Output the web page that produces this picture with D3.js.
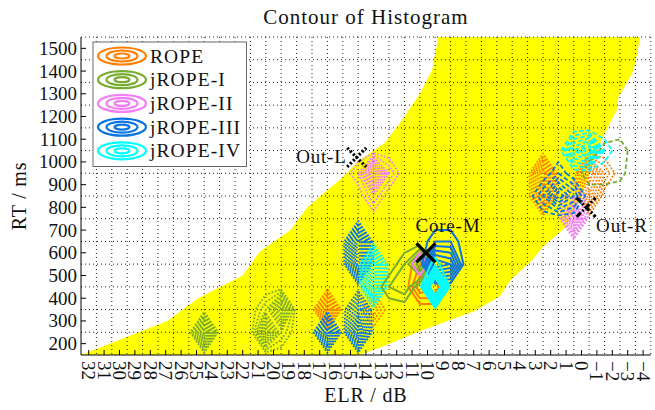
<!DOCTYPE html>
<html>
<head>
<meta charset="utf-8">
<script src="https://cdn.jsdelivr.net/npm/d3@7"></script>
<style>
  body { margin: 0; background: #fff; }
  text { font-family: "Liberation Serif", "Times New Roman", serif; fill: #111; }
</style>
</head>
<body>
<svg id="chart" width="655" height="410"></svg>
<script>
// ---------- data ----------
const elrTicks = [32, 31, 30, 29, 28, 27, 26, 25, 24, 23, 22, 21, 20, 19, 18, 17, 16, 15, 14, 13, 12, 11, 10, 9, 8, 7, 6, 5, 4, 3, 2, 1, 0, -1, -2, -3, -4];
const rtTicks = [200, 300, 400, 500, 600, 700, 800, 900, 1000, 1100, 1200, 1300, 1400, 1500];
// histogram bin centres (grid lines)
const elrBins = [32.5, 31.5, 30.5, 29.5, 28.5, 27.5, 26.5, 25.5, 24.5, 23.5, 22.5, 21.5, 20.5, 19.5, 18.5, 17.5, 16.5, 15.5, 14.5, 13.5, 12.5, 11.5, 10.5, 9.5, 8.5, 7.5, 6.5, 5.5, 4.5, 3.5, 2.5, 1.5, 0.5, -0.5, -1.5, -2.5, -3.5, -4.5];
const rtBins = [150, 250, 350, 450, 550, 650, 750, 850, 950, 1050, 1150, 1250, 1350, 1450, 1550];

const seriesNames = ["ROPE", "jROPE-I", "jROPE-II", "jROPE-III", "jROPE-IV"];

// region reached by all trials together, [ELR, RT]
const coverageElr = [32.5, 26.9, 24.9, 22.0, 20.9, 18.9, 17.8, 16.5, 15.7, 14.4, 12.8, 11.8, 10.5, 9.7, 9.3, -3.8, -3.5, -3.3, -2.4, -2.3, -1.3, 0.1, 1.0, 2.5, 3.2, 4.6, 5.3, 7.0, 10.3, 12.9, 14.4];
const coverageRt  = [150, 300, 400, 500, 605, 700, 800, 875, 920, 1008, 1082, 1170, 1300, 1405, 1550, 1550, 1435, 1390, 1287, 1230, 1096, 832, 715, 627, 568, 480, 407, 341, 260, 187, 150];

// 2-D histogram counts: [ELR bin, RT bin, count]
const ropeLow   = [[16.5, 350, 10], [13.5, 350, 4]];
const ropeCore  = [[10.5, 450, 4], [9.5, 450, 4], [10.5, 550, 2]];
const ropeHigh  = [[2.5, 950, 8], [2.5, 850, 7], [-0.5, 950, 8], [-0.5, 850, 6], [-1.5, 950, 3]];

const jr1Low    = [[24.5, 250, 10], [20.5, 250, 9], [19.5, 350, 9], [20.5, 350, 3], [19.5, 250, 3]];
const jr1Core   = [[10.5, 550, 6], [11.5, 550, 2], [11.5, 450, 3], [12.5, 450, 2]];
const jr1High   = [[-2.5, 1050, 2], [-1.5, 950, 2], [-2.5, 950, 1.5], [-1.5, 1050, 1.5], [-0.5, 950, 2]];

const jr2Low    = [[13.5, 950, 10], [12.5, 950, 3], [14.5, 950, 2], [13.5, 850, 3]];
const jr2Core   = [[10.5, 550, 2]];
const jr2High   = [[0.5, 750, 10], [0.5, 850, 3]];

const jr3Low    = [[16.5, 250, 10], [14.5, 250, 10], [14.5, 350, 6], [14.5, 550, 10], [14.5, 650, 10]];
const jr3Core   = [[9.5, 550, 7], [8.5, 550, 6], [9.5, 650, 2], [8.5, 650, 2]];
const jr3High   = [[1.5, 850, 7], [2.5, 850, 3], [0.5, 850, 4], [1.5, 950, 2]];

const jr4Low    = [[13.5, 450, 10], [13.5, 550, 10]];
const jr4Core   = [[9.5, 450, 14], [9.5, 550, 1.4]];
const jr4High   = [[-0.5, 1050, 9], [0.5, 1050, 6], [-1.5, 1050, 2]];

const contourLevels = [1, 2, 3, 4, 5, 6, 7, 8, 9];

// reference points
const markerNames = ["Out-L", "Core-M", "Out-R"];
const markerElr = [14.6, 10.1, -0.3];
const markerRt = [1020, 600, 800];

// ---------- appearance ----------
const colors = ["#ff8000", "#77ac30", "#f47ef4", "#0a74e0", "#00ffff"];
const groupStyles = {
  low:  { dash: "1.8,1.6", width: 1.8 },
  core: { dash: null, width: 2 },
  high: { dash: "4.5,2.5", width: 1.8 }
};
const groups = [
  { series: 0, style: "low", cells: ropeLow },
  { series: 0, style: "core", cells: ropeCore },
  { series: 0, style: "low", cells: ropeHigh },
  { series: 1, style: "low", cells: jr1Low },
  { series: 1, style: "core", cells: jr1Core },
  { series: 1, style: "high", cells: jr1High },
  { series: 2, style: "low", cells: jr2Low },
  { series: 2, style: "core", cells: jr2Core },
  { series: 2, style: "low", cells: jr2High },
  { series: 3, style: "low", cells: jr3Low },
  { series: 3, style: "core", cells: jr3Core },
  { series: 3, style: "high", cells: jr3High },
  { series: 4, style: "low", cells: jr4Low },
  { series: 4, style: "core", cells: jr4Core },
  { series: 4, style: "high", cells: jr4High }
];

const plot = { left: 81, right: 650.8, top: 37, bottom: 355 };

const x = d3.scaleLinear().domain([elrBins[0], elrBins[elrBins.length - 1]]).range([plot.left, plot.right]);
const y = d3.scaleLinear().domain([rtBins[0], rtBins[rtBins.length - 1]]).range([plot.bottom, plot.top]);

const svg = d3.select("#chart");

// coverage region
const coverage = coverageElr.map((e, i) => [e, coverageRt[i]]);
svg.append("path")
  .attr("d", d3.line().x(d => x(d[0])).y(d => y(d[1]))(coverage) + "Z")
  .attr("fill", "#ffff00")
  .attr("stroke", "none");

// dotted grid on bin centres
const grid = svg.append("g").attr("stroke", "#222").attr("stroke-width", 1).attr("stroke-dasharray", "1,3");
grid.selectAll("line.v").data(elrBins.slice(1)).join("line")
  .attr("x1", d => x(d)).attr("x2", d => x(d))
  .attr("y1", plot.top).attr("y2", plot.bottom);
grid.selectAll("line.h").data(rtBins.slice(1)).join("line")
  .attr("y1", d => y(d)).attr("y2", d => y(d))
  .attr("x1", plot.left).attr("x2", plot.right);

// contours of each histogram
const nx = elrBins.length, ny = rtBins.length;
const contourGen = d3.contours().size([nx, ny]).thresholds(contourLevels);
const elrOf = gx => elrBins[0] - (gx - 0.5);
const rtOf = gy => rtBins[0] + (gy - 0.5) * (rtBins[1] - rtBins[0]);
const proj = d3.geoTransform({
  point(gx, gy) { this.stream.point(x(elrOf(gx)), y(rtOf(gy))); }
});
const pathGen = d3.geoPath(proj);

const contourLayer = svg.append("g").attr("fill", "none");
const order = ["low", "high", "core"];
order.forEach(styleName => {
  groups.filter(g => g.style === styleName).forEach(g => {
    const values = new Array(nx * ny).fill(0);
    g.cells.forEach(([e, r, c]) => {
      const i = elrBins.indexOf(e), j = rtBins.indexOf(r);
      values[j * nx + i] += c;
    });
    const st = groupStyles[g.style];
    contourLayer.append("g")
      .selectAll("path").data(contourGen(values)).join("path")
      .attr("d", pathGen)
      .attr("stroke", colors[g.series])
      .attr("stroke-width", st.width)
      .attr("stroke-dasharray", st.dash)
      .attr("stroke-linejoin", "round");
  });
});

// axes lines
const axes = svg.append("g").attr("stroke", "#000").attr("stroke-width", 1);
axes.append("line").attr("x1", plot.left).attr("x2", plot.left).attr("y1", plot.top).attr("y2", plot.bottom);
axes.append("line").attr("x1", plot.left).attr("x2", plot.right).attr("y1", plot.bottom).attr("y2", plot.bottom);
axes.selectAll("line.yt").data(rtTicks).join("line")
  .attr("x1", plot.left).attr("x2", plot.left + 5)
  .attr("y1", d => y(d)).attr("y2", d => y(d));
axes.selectAll("line.xt").data(elrTicks).join("line")
  .attr("x1", d => x(d)).attr("x2", d => x(d))
  .attr("y1", plot.bottom).attr("y2", plot.bottom - 5);

// tick labels
svg.append("g").selectAll("text").data(rtTicks).join("text")
  .attr("x", plot.left - 4).attr("y", d => y(d))
  .attr("text-anchor", "end").attr("dominant-baseline", "central")
  .attr("font-size", 19).text(d => d);
svg.append("g").selectAll("text").data(elrTicks).join("text")
  .attr("transform", d => `translate(${x(d)},${plot.bottom + 6}) rotate(90)`)
  .attr("text-anchor", "start").attr("dominant-baseline", "central")
  .attr("font-size", 19).text(d => d < 0 ? "\u2212" + Math.abs(d) : d);

// axis titles and title
svg.append("text").attr("x", (plot.left + plot.right) / 2).attr("y", 402)
  .attr("text-anchor", "middle").attr("font-size", 20).attr("letter-spacing", 0.8).text("ELR / dB");
svg.append("text").attr("transform", `translate(26,${(plot.top + plot.bottom) / 2}) rotate(-90)`)
  .attr("text-anchor", "middle").attr("font-size", 20).attr("letter-spacing", 0.8).text("RT / ms");
svg.append("text").attr("x", (plot.left + plot.right) / 2).attr("y", 24)
  .attr("text-anchor", "middle").attr("font-size", 21).attr("letter-spacing", 1).text("Contour of Histogram");

// reference markers
const markerDash = ["2.2,2", null, "6,2,2,2"];
const mk = svg.append("g");
markerNames.forEach((name, i) => {
  const cx = x(markerElr[i]), cy = y(markerRt[i]), s = 9.5;
  [[-s, -s, s, s], [-s, s, s, -s]].forEach(([a, b, c, d]) => {
    mk.append("line").attr("x1", cx + a).attr("y1", cy + b).attr("x2", cx + c).attr("y2", cy + d)
      .attr("stroke", "#000").attr("stroke-width", 3.2).attr("stroke-dasharray", markerDash[i]);
  });
});
const labelPos = [
  { dx: -10, dy: 6, anchor: "end" },
  { dx: 22, dy: -21, anchor: "middle" },
  { dx: 10, dy: 25, anchor: "start" }
];
markerNames.forEach((name, i) => {
  svg.append("text")
    .attr("x", x(markerElr[i]) + labelPos[i].dx).attr("y", y(markerRt[i]) + labelPos[i].dy)
    .attr("text-anchor", labelPos[i].anchor).attr("font-size", 19).attr("letter-spacing", 0.8)
    .text(name);
});

// legend
const lg = svg.append("g");
lg.append("rect").attr("x", 93).attr("y", 42).attr("width", 153.5).attr("height", 124.5)
  .attr("fill", "#fff").attr("stroke", "#666").attr("stroke-width", 1);
seriesNames.forEach((name, i) => {
  const cy = 56 + i * 23.7;
  [[24, 8.5], [15.5, 5.5], [7.5, 2.5]].forEach(([rx, ry]) => {
    lg.append("ellipse").attr("cx", 122).attr("cy", cy).attr("rx", rx).attr("ry", ry)
      .attr("fill", "none").attr("stroke", colors[i]).attr("stroke-width", 2.2);
  });
  lg.append("text").attr("x", 150).attr("y", cy).attr("dominant-baseline", "central")
    .attr("font-size", 19.5).attr("letter-spacing", 1.1).text(name);
});
</script>
</body>
</html>
